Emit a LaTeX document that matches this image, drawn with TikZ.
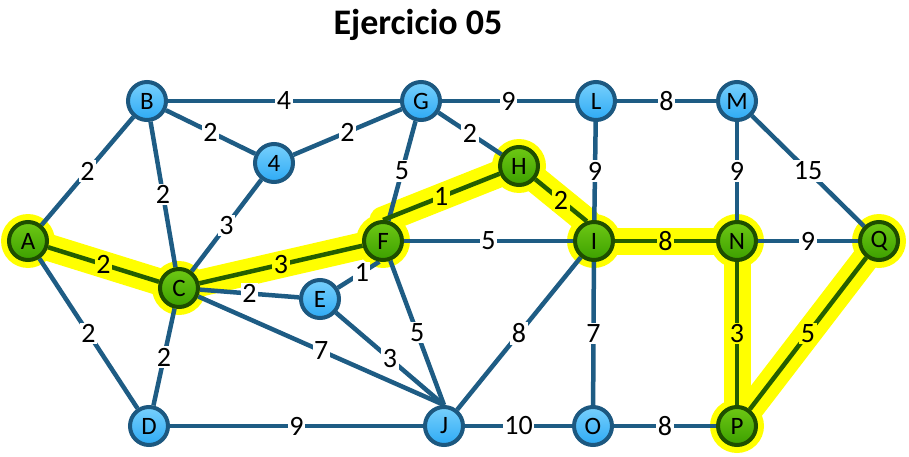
\documentclass[tikz,border=0pt]{standalone}
\usepackage{fontspec}
\setmainfont{Carlito}
\usetikzlibrary{positioning,shadows,backgrounds}
\definecolor{edgeColor}{RGB}{30,92,132}
\definecolor{pathColor}{RGB}{36,94,0}
\definecolor{glowColor}{RGB}{255,255,0}
\definecolor{blueTop}{RGB}{120,208,252}
\definecolor{blueBottom}{RGB}{45,170,245}
\definecolor{blueBorder}{RGB}{28,88,128}
\definecolor{greenTop}{RGB}{110,200,20}
\definecolor{greenBottom}{RGB}{60,160,0}
\definecolor{greenBorder}{RGB}{30,78,0}
\tikzstyle{graphPlane} = [x = 1pt, y = -1pt]
\tikzstyle{vertexStyle} = [circle, minimum size = 38pt, inner sep = 0pt, line width = 4pt, font = \fontsize{25}{25}\selectfont, drop shadow = {opacity = 0.25, shadow xshift = 1.5pt, shadow yshift = -1.5pt}]
\tikzstyle{blueVertexStyle} = [vertexStyle, draw = blueBorder, top color = blueTop, bottom color = blueBottom]
\tikzstyle{greenVertexStyle} = [vertexStyle, draw = greenBorder, top color = greenTop, bottom color = greenBottom]
\tikzstyle{edgeLine} = [color = edgeColor, line width = 4.5pt]
\tikzstyle{pathLine} = [color = pathColor, line width = 4.5pt]
\tikzstyle{glowLine} = [color = glowColor, line width = 27pt, line cap = round, line join = round]
\tikzstyle{weightText} = [fill = white, inner sep = 1.5pt, text = black, font = \fontsize{28}{28}\selectfont]
\tikzstyle{pathWeightText} = [weightText, fill = glowColor]
\newcommand{\blueVertex}[4]{\node [blueVertexStyle] (#1) at (#2, #3) {#4};}
\newcommand{\greenVertex}[4]{\node [greenVertexStyle] (#1) at (#2, #3) {#4};}
\newcommand{\weightEdge}[4][midway]{\draw [edgeLine] (#2) -- (#3) node [weightText, #1] {#4};}
\newcommand{\pathEdge}[4][midway]{\draw [pathLine] (#2) -- (#3) node [pathWeightText, #1] {#4};}
\newcommand{\glowEdge}[2]{\draw [glowLine] (#1) -- (#2);}
\newcommand{\glowVertex}[1]{\fill [glowColor] (#1.center) circle (27pt);}

\begin{document}
\begin{tikzpicture}[graphPlane]
    \useasboundingbox (0, 0) rectangle (909, 457);
    \node [font = \fontsize{36}{36}\selectfont\bfseries] (title) at (418, 25) {Ejercicio 05};
    % vertices
    \greenVertex{A}{28}{241}{A}
    \blueVertex{B}{147}{101}{B}
    \blueVertex{G}{421}{101}{G}
    \blueVertex{L}{596}{101}{L}
    \blueVertex{M}{737}{101}{M}
    \blueVertex{K}{274}{163}{4}
    \greenVertex{H}{519}{166}{H}
    \greenVertex{F}{383}{241}{F}
    \greenVertex{I}{594}{241}{I}
    \greenVertex{N}{737}{241}{N}
    \greenVertex{Q}{879}{241}{Q}
    \greenVertex{C}{179}{288}{C}
    \blueVertex{E}{320}{299}{E}
    \blueVertex{D}{149}{426}{D}
    \blueVertex{J}{444}{426}{J}
    \blueVertex{O}{593}{426}{O}
    \greenVertex{P}{737}{426}{P}
    \begin{scope}[on background layer]
        % glow of the path
        \glowEdge{A.center}{C.center}
        \glowEdge{C.center}{F.center}
        \glowEdge{F.north}{H.center}
        \glowEdge{H.center}{I.110}
        \glowEdge{I.center}{N.center}
        \glowEdge{N.center}{P.center}
        \glowEdge{P.center}{Q.center}
        \foreach \v in {A,C,F,H,I,N,Q,P} {
            \glowVertex{\v}
        }
        % edges
        \weightEdge{A}{B}{2}
        \weightEdge{B}{G}{4}
        \weightEdge{B}{K}{2}
        \weightEdge{K}{G}{2}
        \weightEdge{B}{C}{2}
        \weightEdge{K}{C}{3}
        \weightEdge{G}{F}{5}
        \weightEdge{G}{H}{2}
        \weightEdge{G}{L}{9}
        \weightEdge{L}{M}{8}
        \weightEdge{L}{I}{9}
        \weightEdge{M}{N}{9}
        \weightEdge{M}{Q}{15}
        \weightEdge{F}{I}{5}
        \weightEdge{N}{Q}{9}
        \weightEdge{C}{E}{2}
        \weightEdge[pos = 0.58]{E}{F.260}{1}
        \weightEdge{C}{J.north}{7}
        \weightEdge{E}{J.north}{3}
        \weightEdge{F}{J.north}{5}
        \weightEdge{J}{I}{8}
        \weightEdge{I}{O}{7}
        \weightEdge{A}{D}{2}
        \weightEdge{C}{D}{2}
        \weightEdge{D}{J}{9}
        \weightEdge{J}{O}{10}
        \weightEdge{O}{P}{8}
        \pathEdge{A}{C}{2}
        \pathEdge{C}{F}{3}
        \pathEdge{F.north}{H}{1}
        \pathEdge{H}{I.110}{2}
        \pathEdge{I}{N}{8}
        \pathEdge{N}{P}{3}
        \pathEdge{P}{Q}{5}
    \end{scope}
\end{tikzpicture}
\end{document}
